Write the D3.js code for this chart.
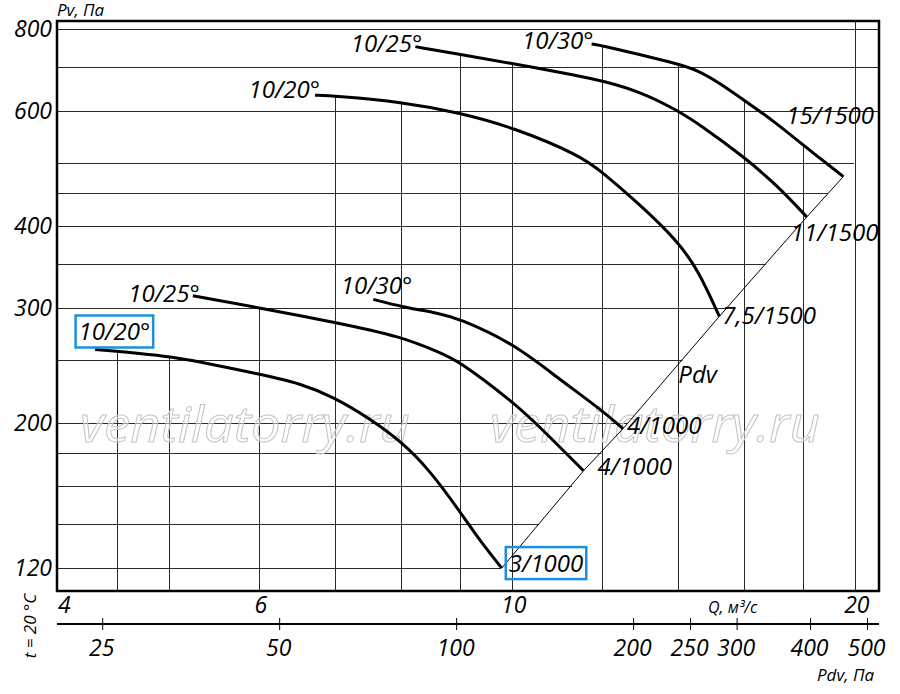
<!DOCTYPE html>
<html>
<head>
    <meta charset="utf-8">
    <title>Pv - Q</title>
    <script src="https://d3js.org/d3.v7.min.js"></script>
    <style>
        body { margin: 0; background: #fff; }
        text { font-family: "Open Sans", "DejaVu Sans", sans-serif; font-style: italic; fill: #000; }
        .grid line { stroke: #2a2a2a; stroke-width: 1; }
        .frame { fill: none; stroke: #000; stroke-width: 2.5; }
        .curve { fill: none; stroke: #000; stroke-width: 3; }
        .pdv { fill: none; stroke: #000; stroke-width: 1; }
        .mark { fill: rgba(255,255,255,0.45); stroke: #c4c4c4; stroke-width: 1; font-size: 50px; }
        .box { fill: none; stroke: #1e8fdc; stroke-width: 2.5; }
    </style>
</head>
<body>
<svg width="900" height="694"></svg>
<script>
    // оси
    var qTicks = [4, 6, 10, 20];
    var pTicks = [120, 200, 300, 400, 600, 800];
    var qGrid = [4.5, 5, 6, 7, 8, 9, 10, 12, 14, 16, 18, 20];
    var pGrid = [120, 140, 160, 180, 200, 250, 300, 350, 400, 450, 500, 600, 700, 800];
    var pdvTicks = [25, 50, 100, 200, 250, 300, 400, 500];

    // характеристики (угол лопаток / мотор)
    var bladeNames = ["10/20°", "10/25°", "10/30°", "10/20°", "10/25°", "10/30°"];
    var motorNames = ["3/1000", "4/1000", "4/1000", "7,5/1500", "11/1500", "15/1500"];
    var boxed = [true, false, false, false, false, false];

    var curveQ = [
        [4.31, 5.00, 5.33, 6.00, 6.52, 6.98, 7.51, 8.01, 8.48, 8.99, 9.38, 9.80],
        [5.25, 6.00, 6.99, 8.01, 8.65, 8.98, 10.02, 10.59, 11.56],
        [7.56, 8.01, 8.65, 8.98, 10.02, 10.95, 12.00, 12.52],
        [6.72, 6.98, 8.01, 8.99, 10.0, 11.48, 12.0, 12.96, 13.95, 14.57, 15.21],
        [8.23, 8.99, 10.0, 11.48, 12.0, 12.96, 13.95, 14.63, 15.99, 17.08, 18.15],
        [11.75, 12.0, 13.95, 14.57, 15.23, 15.99, 17.08, 18.01, 19.54]
    ];
    var curveP = [
        [259, 253, 248, 237.5, 230, 219, 203, 187, 169, 147, 132, 120],
        [313, 300, 285, 271, 256, 249, 215.5, 197, 169],
        [309, 301, 294, 289, 265, 235, 209, 196],
        [634, 632, 619, 596, 567, 513, 484, 431, 381, 343, 291],
        [752, 732, 709, 678, 667, 642, 602, 571, 510, 462, 413],
        [759, 755, 709, 692, 661, 623, 574, 532, 476]
    ];

    // смещения подписей, px
    var startLabelOffset = [[55, -9], [7, 6], [39, -5], [5, 3], [7, 5], [2, 5]];
    var endLabelOffset = [[7, 4], [14, 4], [4, 5], [3, 8], [-16, 24], [-57, -53]];

    var svg = d3.select("svg"),
        x0 = 57, x1 = 879, y0 = 21, y1 = 591;

    var x = d3.scaleLog().domain([3.99, 21]).range([x0, x1]);
    var y = d3.scaleLog().domain([110.7, 823]).range([y1, y0]);
    var xPdv = d3.scaleLog().domain([20.9, 523]).range([x0, x1]);

    var curves = curveQ.map(function (qs, i) {
        return qs.map(function (q, j) { return [q, curveP[i][j]]; });
    });

    // Pdv = k*Q^2 по концам характеристик
    var k = d3.mean(curves, function (c) {
        var e = c[c.length - 1];
        return e[1] / (e[0] * e[0]);
    });

    function topAt(q) {
        var best = null;
        curves.forEach(function (c) {
            if (q < c[0][0] || q > c[c.length - 1][0]) return;
            for (var j = 0; j < c.length - 1; j++) {
                if (q >= c[j][0] && q <= c[j + 1][0]) {
                    var t = (Math.log(q) - Math.log(c[j][0])) / (Math.log(c[j + 1][0]) - Math.log(c[j][0]));
                    var p = Math.exp(Math.log(c[j][1]) + t * (Math.log(c[j + 1][1]) - Math.log(c[j][1])));
                    if (best === null || p > best) best = p;
                }
            }
        });
        return best;
    }

    var grid = svg.append("g").attr("class", "grid");

    grid.selectAll(".h").data(pGrid).enter().append("line")
        .attr("x1", x0)
        .attr("x2", function (p) { return Math.min(x1, x(Math.sqrt(p / k))); })
        .attr("y1", function (p) { return Math.round(y(p)) + 0.5; })
        .attr("y2", function (p) { return Math.round(y(p)) + 0.5; });

    grid.selectAll(".v").data(qGrid).enter().append("line")
        .attr("x1", function (q) { return Math.round(x(q)) + 0.5; })
        .attr("x2", function (q) { return Math.round(x(q)) + 0.5; })
        .attr("y1", y1)
        .attr("y2", function (q) { var p = topAt(q); return p === null ? y0 : y(p); });

    // водяные знаки
    [[80, 442], [490, 442]].forEach(function (pos) {
        svg.append("text").attr("class", "mark")
            .attr("x", pos[0]).attr("y", pos[1])
            .attr("textLength", 330).attr("lengthAdjust", "spacingAndGlyphs")
            .text("ventilatorry.ru");
    });

    // линия динамического давления
    var ends = curves.map(function (c) { return c[c.length - 1]; })
        .sort(function (a, b) { return a[0] - b[0]; });
    svg.append("path").attr("class", "pdv")
        .attr("d", d3.line().x(function (d) { return x(d[0]); }).y(function (d) { return y(d[1]); })(ends));

    var line = d3.line()
        .x(function (d) { return x(d[0]); })
        .y(function (d) { return y(d[1]); })
        .curve(d3.curveBasis);

    svg.selectAll(".curve").data(curves).enter().append("path")
        .attr("class", "curve")
        .attr("d", line);

    function boxIt(t) {
        var b = t.node().getBBox();
        svg.append("rect").attr("class", "box")
            .attr("x", b.x - 3).attr("y", b.y + 1)
            .attr("width", b.width + 6).attr("height", b.height - 1);
    }

    curves.forEach(function (c, i) {
        var s = c[0], e = c[c.length - 1];
        var t1 = svg.append("text")
            .attr("x", x(s[0]) + startLabelOffset[i][0])
            .attr("y", y(s[1]) + startLabelOffset[i][1])
            .attr("text-anchor", "end")
            .style("font-size", "24px")
            .text(bladeNames[i]);
        var t2 = svg.append("text")
            .attr("x", x(e[0]) + endLabelOffset[i][0])
            .attr("y", y(e[1]) + endLabelOffset[i][1])
            .style("font-size", "24px")
            .text(motorNames[i]);
        if (boxed[i]) { boxIt(t1); boxIt(t2); }
    });

    svg.append("text")
        .attr("x", x(14)).attr("y", y(k * 14 * 14) + 19)
        .style("font-size", "24px")
        .text("Pdv");

    // рамка
    svg.append("rect").attr("class", "frame")
        .attr("x", x0).attr("y", y0)
        .attr("width", x1 - x0).attr("height", y1 - y0);

    svg.selectAll(".ptick").data(pTicks).enter().append("text")
        .attr("x", 52)
        .attr("y", function (p) { return y(p) + 8; })
        .attr("text-anchor", "end")
        .style("font-size", "23px")
        .text(function (p) { return p; });

    svg.selectAll(".qtick").data(qTicks).enter().append("text")
        .attr("x", function (q, i) { return i === 0 ? x0 + 1 : x(q) + 2; })
        .attr("y", 613)
        .attr("text-anchor", function (q, i) { return i === 0 ? "start" : "middle"; })
        .style("font-size", "23px")
        .text(function (q) { return q; });

    // шкала Pdv
    svg.append("line")
        .attr("x1", x0).attr("x2", x1)
        .attr("y1", 624).attr("y2", 624)
        .attr("stroke", "#000").attr("stroke-width", 2);

    svg.selectAll(".dtick").data(pdvTicks).enter().append("line")
        .attr("x1", function (d) { return xPdv(d); })
        .attr("x2", function (d) { return xPdv(d); })
        .attr("y1", 618).attr("y2", 630)
        .attr("stroke", "#000").attr("stroke-width", 1);

    svg.selectAll(".dlabel").data(pdvTicks).enter().append("text")
        .attr("x", function (d) { return xPdv(d) - 1; })
        .attr("y", 656)
        .attr("text-anchor", "middle")
        .style("font-size", "23px")
        .text(function (d) { return d; });

    svg.append("text").attr("x", 57).attr("y", 16).style("font-size", "17px").text("Pv, Па");
    svg.append("text").attr("x", 708).attr("y", 613).style("font-size", "16px").text("Q, м³/с");
    svg.append("text").attr("x", 817).attr("y", 681).style("font-size", "17px").text("Pdv, Па");
    svg.append("text")
        .attr("transform", "translate(36,626) rotate(-90)")
        .attr("text-anchor", "middle")
        .style("font-size", "17px")
        .text("t = 20 °С");
</script>
</body>
</html>
